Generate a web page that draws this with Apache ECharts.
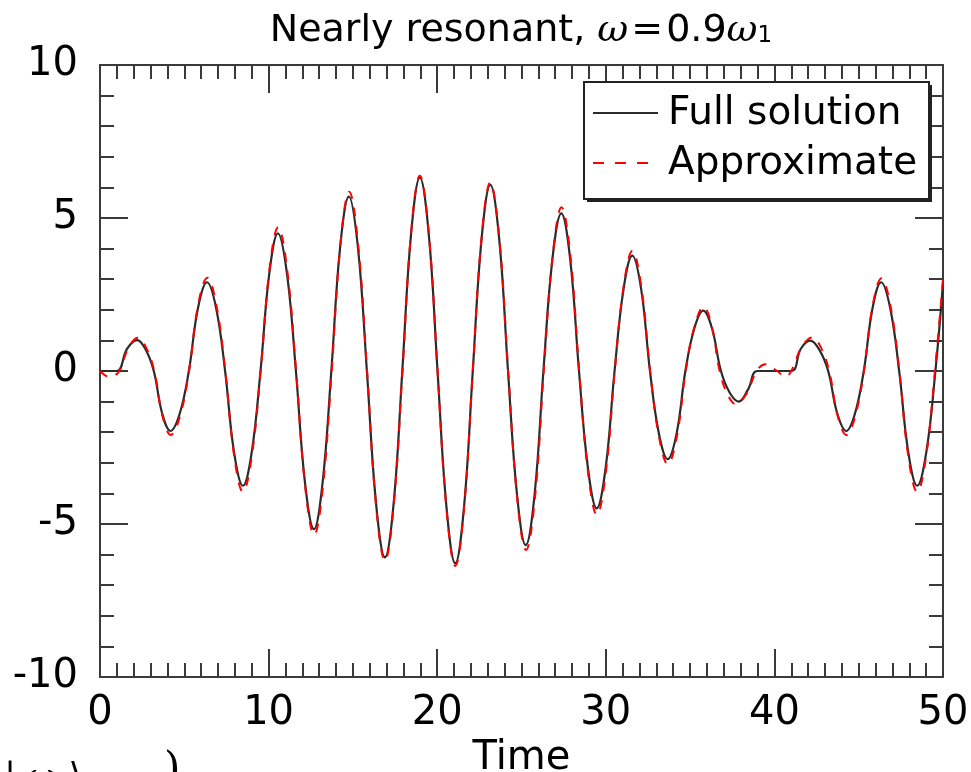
<!DOCTYPE html>
<html>
<head>
<meta charset="utf-8">
<script src="https://cdn.jsdelivr.net/npm/echarts@6/dist/echarts.min.js"></script>
<style>
html,body{margin:0;padding:0;background:#fff;}
#chart{width:971px;height:772px;}
</style>
</head>
<body>
<div id="chart"></div>
<script>
// Points (peaks, troughs, zero crossings and flank points)
const fullTime = [0, 1.0, 1.6, 2.2, 2.7, 3.19, 3.69, 4.18, 4.73, 5.27, 5.81, 6.35, 6.89, 7.42, 7.95, 8.48, 9.0, 9.52, 10.04, 10.55, 11.09, 11.62, 12.16, 12.69, 13.2, 13.72, 14.24, 14.76, 15.3, 15.83, 16.37, 16.90, 17.42, 17.93, 18.45, 18.97, 19.5, 20.02, 20.55, 21.07, 21.59, 22.11, 22.63, 23.15, 23.68, 24.2, 24.73, 25.25, 25.78, 26.3, 26.83, 27.36, 27.89, 28.41, 28.94, 29.46, 29.99, 30.52, 31.05, 31.57, 32.1, 32.62, 33.15, 33.67, 34.2, 34.72, 35.25, 35.78, 36.3, 36.83, 37.35, 37.88, 38.44, 39.0, 41.0, 41.56, 42.12, 42.66, 43.19, 43.73, 44.26, 44.78, 45.3, 45.82, 46.33, 46.87, 47.4, 47.94, 48.47, 49.01, 49.55, 50];
const fullValue = [0, 0, 0.72, 1.01, 0.71, 0, -1.39, -1.96, -1.39, 0, 2.05, 2.90, 2.05, 0, -2.65, -3.75, -2.65, 0, 3.18, 4.50, 3.18, 0, -3.66, -5.17, -3.66, 0, 4.03, 5.70, 4.03, 0, -4.31, -6.09, -4.31, 0, 4.47, 6.32, 4.47, 0, -4.45, -6.29, -4.45, 0, 4.30, 6.08, 4.30, 0, -4.02, -5.69, -4.02, 0, 3.64, 5.15, 3.64, 0, -3.17, -4.49, -3.17, 0, 2.67, 3.77, 2.67, 0, -2.04, -2.88, -2.04, 0, 1.39, 1.97, 1.39, 0, -0.71, -1.00, -0.60, 0, 0, 0.72, 0.99, 0.70, 0, -1.39, -1.96, -1.39, 0, 2.05, 2.90, 2.05, 0, -2.65, -3.75, -2.65, 0, 2.87];

const approxTime = [0, 0.3, 0.6, 0.88, 1.15, 1.7, 2.25, 2.73, 3.22, 3.71, 4.2, 4.74, 5.28, 5.82, 6.37, 6.9, 7.43, 7.96, 8.48, 9.0, 9.53, 10.05, 10.57, 11.1, 11.63, 12.17, 12.7, 13.22, 13.74, 14.26, 14.78, 15.31, 15.84, 16.37, 16.9, 17.42, 17.94, 18.45, 18.97, 19.5, 20.02, 20.55, 21.07, 21.59, 22.11, 22.63, 23.15, 23.68, 24.21, 24.74, 25.27, 25.8, 26.32, 26.85, 27.37, 27.9, 28.42, 28.95, 29.47, 30.0, 30.53, 31.06, 31.58, 32.1, 32.63, 33.16, 33.68, 34.21, 34.74, 35.27, 35.8, 36.28, 36.75, 37.22, 37.7, 38.33, 38.95, 39.47, 40.16, 40.66, 41.0, 41.62, 42.25, 42.75, 43.25, 43.76, 44.27, 44.79, 45.31, 45.83, 46.35, 46.88, 47.41, 47.94, 48.47, 49.0, 49.52, 50];
const approxValue = [0, -0.14, -0.2, -0.14, 0, 0.77, 1.09, 0.77, 0, -1.48, -2.09, -1.48, 0, 2.16, 3.05, 2.16, 0, -2.79, -3.95, -2.79, 0, 3.32, 4.70, 3.32, 0, -3.79, -5.36, -3.79, 0, 4.14, 5.86, 4.14, 0, -4.38, -6.20, -4.38, 0, 4.51, 6.38, 4.51, 0, -4.50, -6.37, -4.50, 0, 4.36, 6.16, 4.36, 0, -4.14, -5.85, -4.14, 0, 3.78, 5.35, 3.78, 0, -3.32, -4.70, -3.32, 0, 2.78, 3.93, 2.78, 0, -2.16, -3.05, -2.16, 0, 1.48, 2.10, 1.48, 0, -0.76, -1.08, -0.76, 0, 0.22, 0, -0.19, 0, 0.78, 1.10, 0.78, 0, -1.48, -2.09, -1.48, 0, 2.14, 3.03, 2.14, 0, -2.79, -3.95, -2.79, 0, 3.0];

const xTicks = [0, 10, 20, 30, 40, 50];
const yTicks = [-10, -5, 0, 5, 10];
const seriesNames = ['Full solution', 'Approximate'];

const FONT = 'DejaVu Sans';
const AX = '#3a3a3a';

const fullData = fullTime.map((t, i) => [t, fullValue[i]]);
const approxData = approxTime.map((t, i) => [t, approxValue[i]]);

function xAxisCfg(pos, showLabel) {
  return {
    type: 'value', position: pos, min: xTicks[0], max: xTicks[xTicks.length - 1], interval: 10,
    axisLine: { show: true, onZero: false, lineStyle: { color: AX, width: 2 } },
    axisTick: { show: true, inside: true, length: 28, lineStyle: { color: AX, width: 2 } },
    minorTick: { show: true, splitNumber: 10, length: 14, lineStyle: { color: AX, width: 2 } },
    splitLine: { show: false }, minorSplitLine: { show: false },
    axisLabel: { show: showLabel, fontSize: 40, color: '#000', fontFamily: FONT, margin: 17 },
    name: showLabel ? 'Time' : '', nameLocation: 'middle', nameGap: 51,
    nameTextStyle: { fontSize: 40, color: '#000', fontFamily: FONT }
  };
}
function yAxisCfg(pos, showLabel) {
  return {
    type: 'value', position: pos, min: yTicks[0], max: yTicks[yTicks.length - 1], interval: 5,
    axisLine: { show: true, onZero: false, lineStyle: { color: AX, width: 2 } },
    axisTick: { show: true, inside: true, length: 28, lineStyle: { color: AX, width: 2 } },
    minorTick: { show: true, splitNumber: 5, length: 14, lineStyle: { color: AX, width: 2 } },
    splitLine: { show: false }, minorSplitLine: { show: false },
    axisLabel: { show: showLabel, fontSize: 40, color: '#000', fontFamily: FONT, margin: 22 }
  };
}

const chart = echarts.init(document.getElementById('chart'), null, { renderer: 'canvas' });
chart.setOption({
  animation: false,
  backgroundColor: '#fff',
  grid: { left: 100, right: 28, top: 65, bottom: 95, containLabel: false, outerBoundsMode: 'none' },
  xAxis: [xAxisCfg('bottom', true), xAxisCfg('top', false)],
  yAxis: [yAxisCfg('left', true), yAxisCfg('right', false)],
  series: [
    { name: seriesNames[0], type: 'line', data: fullData, smooth: 0.4, symbol: 'none',
      lineStyle: { color: '#2b2b2b', width: 2.2 }, z: 2 },
    { name: seriesNames[1], type: 'line', data: approxData, smooth: 0.4, symbol: 'none',
      lineStyle: { color: '#ff0000', width: 2, type: [9, 9] }, z: 3 }
  ],
  graphic: [
    { type: 'text', x: 521, y: 9, z: 10,
      style: { text: '{a|Nearly resonant, }{w|ω}{e|=}{a|0.9}{w|ω}{s|1}', textAlign: 'center',
        rich: {
          a: { fontSize: 38, fontFamily: FONT, color: '#000', verticalAlign: 'bottom', height: 44 },
          w: { fontSize: 38, fontFamily: 'DejaVu Serif', fontStyle: 'italic', color: '#000', verticalAlign: 'bottom', height: 44 },
          e: { fontSize: 38, fontFamily: 'DejaVu Serif', color: '#000', verticalAlign: 'bottom', height: 44, padding: [0, 3, 0, 3] },
          s: { fontSize: 23, fontFamily: FONT, color: '#000', verticalAlign: 'bottom', height: 34 }
        } } },
    // legend box
    { type: 'rect', shape: { x: 587, y: 85, width: 345, height: 117 }, style: { fill: '#222' }, z: 20 },
    { type: 'rect', shape: { x: 584, y: 82, width: 345, height: 117 }, style: { fill: '#fff', stroke: '#222', lineWidth: 2 }, z: 21 },
    { type: 'line', shape: { x1: 593, y1: 113, x2: 658, y2: 113 }, style: { stroke: '#2b2b2b', lineWidth: 2 }, z: 22 },
    { type: 'line', shape: { x1: 593, y1: 163, x2: 658, y2: 163 }, style: { stroke: '#ff0000', lineWidth: 2, lineDash: [11, 11] }, z: 22 },
    { type: 'text', x: 668, y: 114, z: 22, style: { text: seriesNames[0], fontSize: 39, fontFamily: FONT, fill: '#000', verticalAlign: 'middle' } },
    { type: 'text', x: 668, y: 164, z: 22, style: { text: seriesNames[1], fontSize: 39, fontFamily: FONT, fill: '#000', verticalAlign: 'middle' } },
    // cut-off text fragment at the very bottom
    { type: 'text', x: 4, y: 761, z: 5, style: { text: '| ω ⟩', fontSize: 36, fontFamily: 'DejaVu Serif', fill: '#000' } },
    { type: 'text', x: 164, y: 750, z: 5, style: { text: ')', fontSize: 42, fontFamily: 'DejaVu Serif', fill: '#000' } }
  ]
});
</script>
</body>
</html>
